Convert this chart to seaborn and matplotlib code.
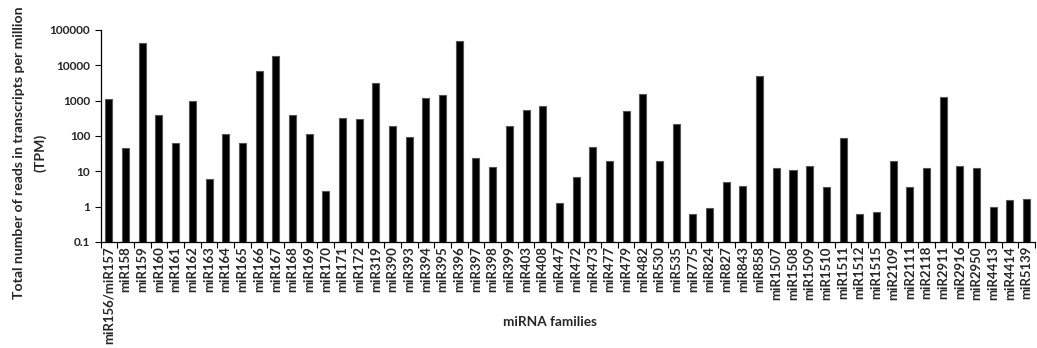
import numpy as np
import pandas as pd
import seaborn as sns
import matplotlib.pyplot as plt
from matplotlib.ticker import FixedLocator, FuncFormatter

families = ['miR156/miR157', 'miR158', 'miR159', 'miR160', 'miR161', 'miR162', 'miR163',
            'miR164', 'miR165', 'miR166', 'miR167', 'miR168', 'miR169', 'miR170',
            'miR171', 'miR172', 'miR319', 'miR390', 'miR393', 'miR394', 'miR395',
            'miR396', 'miR397', 'miR398', 'miR399', 'miR403', 'miR408', 'miR447',
            'miR472', 'miR473', 'miR477', 'miR479', 'miR482', 'miR530', 'miR535',
            'miR775', 'miR824', 'miR827', 'miR843', 'miR858', 'miR1507', 'miR1508',
            'miR1509', 'miR1510', 'miR1511', 'miR1512', 'miR1515', 'miR2109', 'miR2111',
            'miR2118', 'miR2911', 'miR2916', 'miR2950', 'miR4413', 'miR4414', 'miR5139']
tpm = [1100, 45, 42000, 400, 65, 1000, 6, 115, 65, 7000, 18000, 380, 110, 2.7,
       320, 300, 3200, 190, 95, 1200, 1400, 48000, 24, 13, 190, 550, 700, 1.3,
       7, 50, 20, 500, 1500, 20, 220, 0.6, 0.9, 5, 3.7, 5000, 12, 11,
       14, 3.5, 90, 0.6, 0.7, 20, 3.5, 12, 1300, 14, 12, 0.95, 1.5, 1.6]
yticks = [0.1, 1, 10, 100, 1000, 10000, 100000]

df = pd.DataFrame({'family': families, 'tpm': tpm})

sns.set_style('white')
plt.rcParams['font.family'] = ['Lato', 'DejaVu Sans']

fig, ax = plt.subplots(figsize=(10.37, 3.48), dpi=100)
fig.subplots_adjust(left=0.097, right=0.998, top=0.914, bottom=0.305)

sns.barplot(data=df, x='family', y='tpm', color='black', width=0.42,
            edgecolor='#555555', linewidth=0.8, saturation=1, ax=ax)
ax.set_yscale('log')
ax.set_ylim(0.1, 100000)
ax.set_xlim(-0.5, len(families) - 0.5)

ax.yaxis.set_major_locator(FixedLocator(yticks))
ax.yaxis.set_minor_locator(FixedLocator([]))
ax.yaxis.set_major_formatter(FuncFormatter(lambda v, p: ('%g' % v)))
ax.tick_params(axis='y', which='major', direction='out', length=4, width=0.8,
               labelsize=8.5, left=True, color='black')
for t in ax.get_yticklabels():
    t.set_fontweight('bold')

# excel style ticks between categories
ax.set_xticks(np.arange(len(families)))
ax.set_xticklabels(families, rotation=90, fontsize=9.5, fontweight='bold')
ax.tick_params(axis='x', which='major', length=0, pad=3)
ax.xaxis.set_minor_locator(FixedLocator(np.arange(len(families) + 1) - 0.5))
ax.tick_params(axis='x', which='minor', direction='out', length=4, width=0.8,
               bottom=True, color='black')

for s in ['top', 'right']:
    ax.spines[s].set_visible(False)
for s in ['left', 'bottom']:
    ax.spines[s].set_color('black')
    ax.spines[s].set_linewidth(0.9)

ax.set_ylabel('')
ax.set_xlabel('')
fig.text(19 / 1037, 1 - 153 / 348, 'Total number of reads in transcripts per million',
         rotation=90, ha='center', va='center', fontsize=10.1, fontweight='bold')
fig.text(40 / 1037, 1 - 153 / 348, '(TPM)',
         rotation=90, ha='center', va='center', fontsize=10.1, fontweight='bold')
fig.text(550 / 1037, 1 - 322 / 348, 'miRNA families', ha='center', va='center',
         fontsize=9.8, fontweight='bold')

fig.savefig('out.png', dpi=100)
